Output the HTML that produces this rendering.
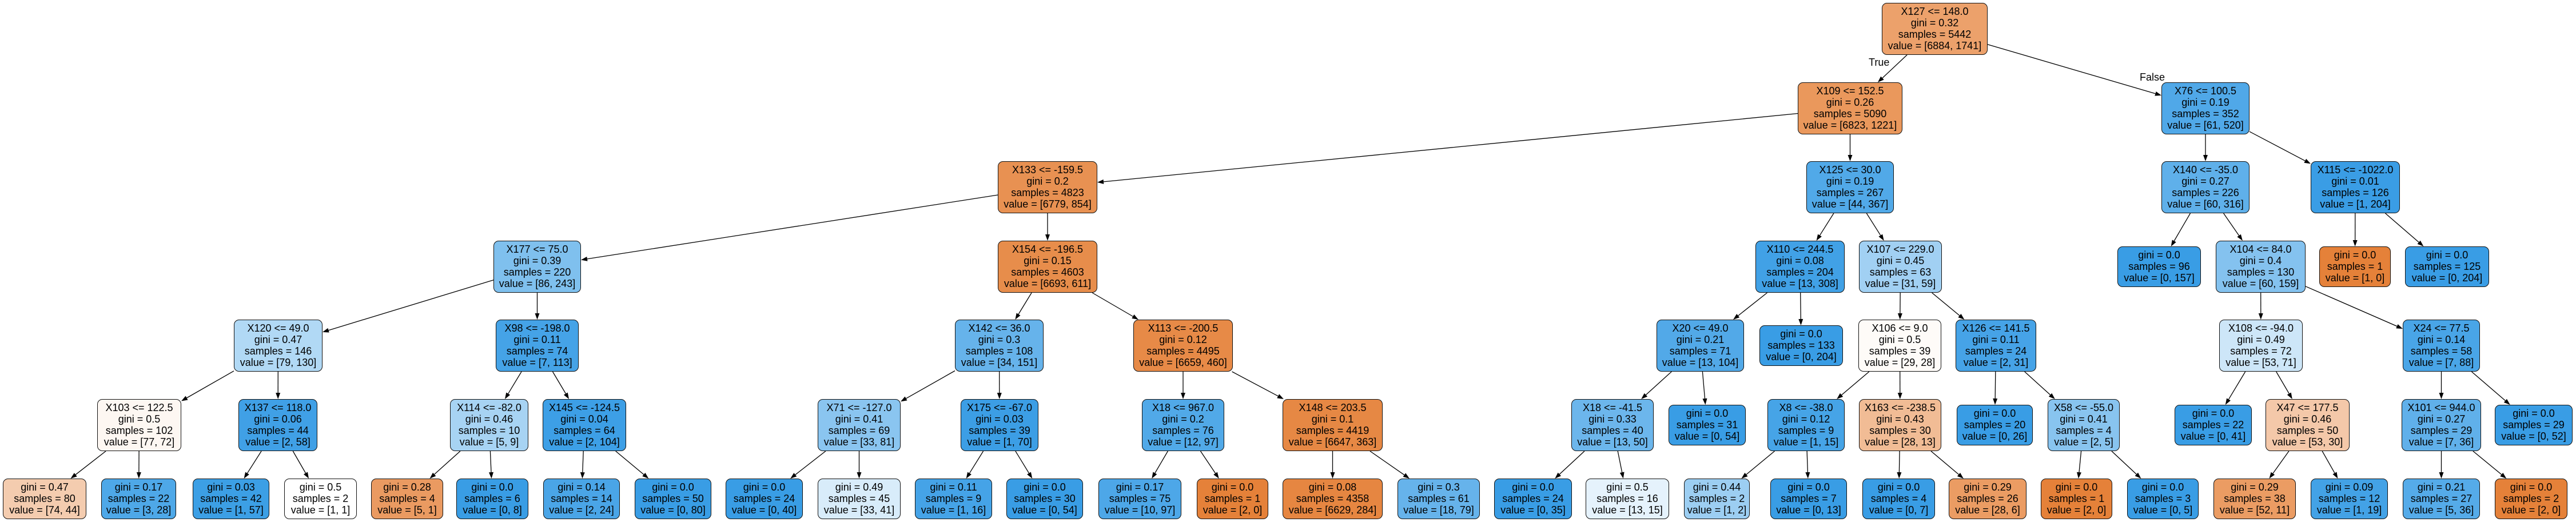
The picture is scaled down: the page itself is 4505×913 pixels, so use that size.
<!DOCTYPE html>
<html><head><meta charset="utf-8">
<style>
html,body{margin:0;padding:0;background:#fff;}
body{width:4505px;height:913px;position:relative;overflow:hidden;font-family:"Liberation Sans",Arial,sans-serif;}
.n{position:absolute;box-sizing:border-box;border:1.3px solid #111;border-radius:9px;font-size:18px;line-height:20px;text-align:center;padding-top:4px;color:#000;white-space:nowrap;background:#fff;z-index:2;}
.lbl{position:absolute;font-size:18px;line-height:20px;z-index:2;}
svg{position:absolute;left:0;top:0;z-index:1;}
</style></head><body>
<svg id="sv" width="4505" height="913"></svg>
<div class="lbl" style="left:3268px;top:99px">True</div>
<div class="lbl" style="left:3742px;top:125px">False</div>

<div class="n" id="A" style="left:3291px;top:5px;width:185px;height:91px">X127 &lt;= 148.0<br>gini = 0.32<br>samples = 5442<br>value = [6884, 1741]</div>

<div class="n" id="B" style="left:3144px;top:144px;width:183px;height:91px">X109 &lt;= 152.5<br>gini = 0.26<br>samples = 5090<br>value = [6823, 1221]</div>
<div class="n" id="C" style="left:3780px;top:144px;width:154px;height:91px">X76 &lt;= 100.5<br>gini = 0.19<br>samples = 352<br>value = [61, 520]</div>

<div class="n" id="D" style="left:1745px;top:282px;width:174px;height:91px">X133 &lt;= -159.5<br>gini = 0.2<br>samples = 4823<br>value = [6779, 854]</div>
<div class="n" id="E" style="left:3159px;top:282px;width:153px;height:91px">X125 &lt;= 30.0<br>gini = 0.19<br>samples = 267<br>value = [44, 367]</div>
<div class="n" id="F" style="left:3780px;top:282px;width:154px;height:91px">X140 &lt;= -35.0<br>gini = 0.27<br>samples = 226<br>value = [60, 316]</div>
<div class="n" id="G" style="left:4041px;top:282px;width:156px;height:91px">X115 &lt;= -1022.0<br>gini = 0.01<br>samples = 126<br>value = [1, 204]</div>

<div class="n" id="H" style="left:863px;top:421px;width:153px;height:91px">X177 &lt;= 75.0<br>gini = 0.39<br>samples = 220<br>value = [86, 243]</div>
<div class="n" id="I" style="left:1745px;top:421px;width:174px;height:91px">X154 &lt;= -196.5<br>gini = 0.15<br>samples = 4603<br>value = [6693, 611]</div>
<div class="n" id="J" style="left:3070px;top:421px;width:156px;height:91px">X110 &lt;= 244.5<br>gini = 0.08<br>samples = 204<br>value = [13, 308]</div>
<div class="n" id="K" style="left:3251px;top:421px;width:145px;height:91px">X107 &lt;= 229.0<br>gini = 0.45<br>samples = 63<br>value = [31, 59]</div>
<div class="n" id="L" style="left:3703px;top:431px;width:146px;height:71px">gini = 0.0<br>samples = 96<br>value = [0, 157]</div>
<div class="n" id="M" style="left:3875px;top:421px;width:157px;height:91px">X104 &lt;= 84.0<br>gini = 0.4<br>samples = 130<br>value = [60, 159]</div>
<div class="n" id="N" style="left:4056px;top:431px;width:125px;height:71px">gini = 0.0<br>samples = 1<br>value = [1, 0]</div>
<div class="n" id="O" style="left:4206px;top:431px;width:147px;height:71px">gini = 0.0<br>samples = 125<br>value = [0, 204]</div>

<div class="n" id="P" style="left:409px;top:559px;width:155px;height:91px">X120 &lt;= 49.0<br>gini = 0.47<br>samples = 146<br>value = [79, 130]</div>
<div class="n" id="Q" style="left:867px;top:559px;width:145px;height:91px">X98 &lt;= -198.0<br>gini = 0.11<br>samples = 74<br>value = [7, 113]</div>
<div class="n" id="R" style="left:1670px;top:559px;width:155px;height:91px">X142 &lt;= 36.0<br>gini = 0.3<br>samples = 108<br>value = [34, 151]</div>
<div class="n" id="S" style="left:1982px;top:559px;width:174px;height:91px">X113 &lt;= -200.5<br>gini = 0.12<br>samples = 4495<br>value = [6659, 460]</div>
<div class="n" id="T" style="left:2897px;top:559px;width:153px;height:91px">X20 &lt;= 49.0<br>gini = 0.21<br>samples = 71<br>value = [13, 104]</div>
<div class="n" id="U" style="left:3077px;top:569px;width:146px;height:71px">gini = 0.0<br>samples = 133<br>value = [0, 204]</div>
<div class="n" id="V" style="left:3250px;top:559px;width:145px;height:91px">X106 &lt;= 9.0<br>gini = 0.5<br>samples = 39<br>value = [29, 28]</div>
<div class="n" id="W" style="left:3420px;top:559px;width:141px;height:91px">X126 &lt;= 141.5<br>gini = 0.11<br>samples = 24<br>value = [2, 31]</div>
<div class="n" id="X" style="left:3881px;top:559px;width:146px;height:91px">X108 &lt;= -94.0<br>gini = 0.49<br>samples = 72<br>value = [53, 71]</div>
<div class="n" id="Y" style="left:4202px;top:559px;width:135px;height:91px">X24 &lt;= 77.5<br>gini = 0.14<br>samples = 58<br>value = [7, 88]</div>

<div class="n" id="a" style="left:170px;top:698px;width:147px;height:91px">X103 &lt;= 122.5<br>gini = 0.5<br>samples = 102<br>value = [77, 72]</div>
<div class="n" id="b" style="left:417px;top:698px;width:138px;height:91px">X137 &lt;= 118.0<br>gini = 0.06<br>samples = 44<br>value = [2, 58]</div>
<div class="n" id="c" style="left:787px;top:698px;width:137px;height:91px">X114 &lt;= -82.0<br>gini = 0.46<br>samples = 10<br>value = [5, 9]</div>
<div class="n" id="d" style="left:949px;top:698px;width:146px;height:91px">X145 &lt;= -124.5<br>gini = 0.04<br>samples = 64<br>value = [2, 104]</div>
<div class="n" id="e" style="left:1430px;top:698px;width:145px;height:91px">X71 &lt;= -127.0<br>gini = 0.41<br>samples = 69<br>value = [33, 81]</div>
<div class="n" id="f" style="left:1680px;top:698px;width:136px;height:91px">X175 &lt;= -67.0<br>gini = 0.03<br>samples = 39<br>value = [1, 70]</div>
<div class="n" id="g" style="left:1997px;top:698px;width:144px;height:91px">X18 &lt;= 967.0<br>gini = 0.2<br>samples = 76<br>value = [12, 97]</div>
<div class="n" id="h" style="left:2243px;top:698px;width:175px;height:91px">X148 &lt;= 203.5<br>gini = 0.1<br>samples = 4419<br>value = [6647, 363]</div>
<div class="n" id="i" style="left:2748px;top:698px;width:144px;height:91px">X18 &lt;= -41.5<br>gini = 0.33<br>samples = 40<br>value = [13, 50]</div>
<div class="n" id="j" style="left:2918px;top:708px;width:135px;height:71px">gini = 0.0<br>samples = 31<br>value = [0, 54]</div>
<div class="n" id="k" style="left:3091px;top:698px;width:135px;height:91px">X8 &lt;= -38.0<br>gini = 0.12<br>samples = 9<br>value = [1, 15]</div>
<div class="n" id="l" style="left:3251px;top:698px;width:144px;height:91px">X163 &lt;= -238.5<br>gini = 0.43<br>samples = 30<br>value = [28, 13]</div>
<div class="n" id="m" style="left:3422px;top:708px;width:133px;height:71px">gini = 0.0<br>samples = 20<br>value = [0, 26]</div>
<div class="n" id="n" style="left:3581px;top:698px;width:126px;height:91px">X58 &lt;= -55.0<br>gini = 0.41<br>samples = 4<br>value = [2, 5]</div>
<div class="n" id="o" style="left:3803px;top:708px;width:135px;height:71px">gini = 0.0<br>samples = 22<br>value = [0, 41]</div>
<div class="n" id="p" style="left:3962px;top:698px;width:147px;height:91px">X47 &lt;= 177.5<br>gini = 0.46<br>samples = 50<br>value = [53, 30]</div>
<div class="n" id="q" style="left:4200px;top:698px;width:139px;height:91px">X101 &lt;= 944.0<br>gini = 0.27<br>samples = 29<br>value = [7, 36]</div>
<div class="n" id="r" style="left:4363px;top:708px;width:136px;height:71px">gini = 0.0<br>samples = 29<br>value = [0, 52]</div>

<div class="n" id="a1" style="left:5px;top:837px;width:146px;height:71px">gini = 0.47<br>samples = 80<br>value = [74, 44]</div>
<div class="n" id="a2" style="left:177px;top:837px;width:131px;height:71px">gini = 0.17<br>samples = 22<br>value = [3, 28]</div>
<div class="n" id="b1" style="left:337px;top:837px;width:134px;height:71px">gini = 0.03<br>samples = 42<br>value = [1, 57]</div>
<div class="n" id="b2" style="left:497px;top:837px;width:127px;height:71px">gini = 0.5<br>samples = 2<br>value = [1, 1]</div>
<div class="n" id="c1" style="left:649px;top:837px;width:126px;height:71px">gini = 0.28<br>samples = 4<br>value = [5, 1]</div>
<div class="n" id="c2" style="left:798px;top:837px;width:126px;height:71px">gini = 0.0<br>samples = 6<br>value = [0, 8]</div>
<div class="n" id="d1" style="left:950px;top:837px;width:134px;height:71px">gini = 0.14<br>samples = 14<br>value = [2, 24]</div>
<div class="n" id="d2" style="left:1110px;top:837px;width:134px;height:71px">gini = 0.0<br>samples = 50<br>value = [0, 80]</div>
<div class="n" id="e1" style="left:1269px;top:837px;width:135px;height:71px">gini = 0.0<br>samples = 24<br>value = [0, 40]</div>
<div class="n" id="e2" style="left:1430px;top:837px;width:145px;height:71px">gini = 0.49<br>samples = 45<br>value = [33, 41]</div>
<div class="n" id="f1" style="left:1600px;top:837px;width:135px;height:71px">gini = 0.11<br>samples = 9<br>value = [1, 16]</div>
<div class="n" id="f2" style="left:1760px;top:837px;width:134px;height:71px">gini = 0.0<br>samples = 30<br>value = [0, 54]</div>
<div class="n" id="g1" style="left:1921px;top:837px;width:145px;height:71px">gini = 0.17<br>samples = 75<br>value = [10, 97]</div>
<div class="n" id="g2" style="left:2093px;top:837px;width:125px;height:71px">gini = 0.0<br>samples = 1<br>value = [2, 0]</div>
<div class="n" id="h1" style="left:2243px;top:837px;width:175px;height:71px">gini = 0.08<br>samples = 4358<br>value = [6629, 284]</div>
<div class="n" id="h2" style="left:2444px;top:837px;width:144px;height:71px">gini = 0.3<br>samples = 61<br>value = [18, 79]</div>
<div class="n" id="i1" style="left:2613px;top:837px;width:136px;height:71px">gini = 0.0<br>samples = 24<br>value = [0, 35]</div>
<div class="n" id="i2" style="left:2773px;top:837px;width:146px;height:71px">gini = 0.5<br>samples = 16<br>value = [13, 15]</div>
<div class="n" id="k1" style="left:2945px;top:837px;width:115px;height:71px">gini = 0.44<br>samples = 2<br>value = [1, 2]</div>
<div class="n" id="k2" style="left:3096px;top:837px;width:134px;height:71px">gini = 0.0<br>samples = 7<br>value = [0, 13]</div>
<div class="n" id="l1" style="left:3257px;top:837px;width:127px;height:71px">gini = 0.0<br>samples = 4<br>value = [0, 7]</div>
<div class="n" id="l2" style="left:3408px;top:837px;width:136px;height:71px">gini = 0.29<br>samples = 26<br>value = [28, 6]</div>
<div class="n" id="n1" style="left:3569px;top:837px;width:125px;height:71px">gini = 0.0<br>samples = 1<br>value = [2, 0]</div>
<div class="n" id="n2" style="left:3720px;top:837px;width:125px;height:71px">gini = 0.0<br>samples = 3<br>value = [0, 5]</div>
<div class="n" id="p1" style="left:3871px;top:837px;width:144px;height:71px">gini = 0.29<br>samples = 38<br>value = [52, 11]</div>
<div class="n" id="p2" style="left:4041px;top:837px;width:135px;height:71px">gini = 0.09<br>samples = 12<br>value = [1, 19]</div>
<div class="n" id="q1" style="left:4202px;top:837px;width:135px;height:71px">gini = 0.21<br>samples = 27<br>value = [5, 36]</div>
<div class="n" id="q2" style="left:4363px;top:837px;width:127px;height:71px">gini = 0.0<br>samples = 2<br>value = [2, 0]</div>

<script>
(function(){
var nodes=document.querySelectorAll('.n');
for(var i=0;i<nodes.length;i++){
  var m=nodes[i].textContent.match(/value = \[(\d+), (\d+)\]/);
  if(!m)continue;
  var a=+m[1],b=+m[2],mx=Math.max(a,b),mn=Math.min(a,b);
  var al=mx?1-mn/mx:0;
  var c=a>=b?[229,129,57]:[57,157,229];
  if(a==b)al=0;
  var rgb=c.map(function(v){return Math.round(al*v+(1-al)*255);});
  nodes[i].style.background='rgb('+rgb.join(',')+')';
}
var E=[['A','B'],['A','C'],['B','D'],['B','E'],['C','F'],['C','G'],
['D','H'],['D','I'],['E','J'],['E','K'],['F','L'],['F','M'],['G','N'],['G','O'],
['H','P'],['H','Q'],['I','R'],['I','S'],['J','T'],['J','U'],['K','V'],['K','W'],['M','X'],['M','Y'],
['P','a'],['P','b'],['Q','c'],['Q','d'],['R','e'],['R','f'],['S','g'],['S','h'],['T','i'],['T','j'],['V','k'],['V','l'],['W','m'],['W','n'],['X','o'],['X','p'],['Y','q'],['Y','r'],
['a','a1'],['a','a2'],['b','b1'],['b','b2'],['c','c1'],['c','c2'],['d','d1'],['d','d2'],['e','e1'],['e','e2'],['f','f1'],['f','f2'],['g','g1'],['g','g2'],['h','h1'],['h','h2'],['i','i1'],['i','i2'],['k','k1'],['k','k2'],['l','l1'],['l','l2'],['n','n1'],['n','n2'],['p','p1'],['p','p2'],['q','q1'],['q','q2']];
function bx(id){var e=document.getElementById(id);return {cx:e.offsetLeft+e.offsetWidth/2,cy:e.offsetTop+e.offsetHeight/2,hw:e.offsetWidth/2,hh:e.offsetHeight/2};}
function tc(b,dx,dy){var t1=Math.abs(dx)>1e-6?b.hw/Math.abs(dx):1e9;var t2=Math.abs(dy)>1e-6?b.hh/Math.abs(dy):1e9;return Math.min(t1,t2);}
var s='';
E.forEach(function(p){
  var P=bx(p[0]),C=bx(p[1]);
  var dx=C.cx-P.cx,dy=C.cy-P.cy;
  var t0=tc(P,dx,dy),t1=1-tc(C,dx,dy);
  var x0=P.cx+dx*t0,y0=P.cy+dy*t0,x1=P.cx+dx*t1,y1=P.cy+dy*t1;
  var L=Math.sqrt(dx*dx+dy*dy),ux=dx/L,uy=dy/L;
  var al=11,aw=4;
  var bx_=x1-ux*al,by_=y1-uy*al;
  s+='<line x1="'+x0.toFixed(1)+'" y1="'+y0.toFixed(1)+'" x2="'+bx_.toFixed(1)+'" y2="'+by_.toFixed(1)+'" stroke="#000" stroke-width="1.3"/>';
  s+='<polygon points="'+x1.toFixed(1)+','+y1.toFixed(1)+' '+(bx_-uy*aw).toFixed(1)+','+(by_+ux*aw).toFixed(1)+' '+(bx_+uy*aw).toFixed(1)+','+(by_-ux*aw).toFixed(1)+'" fill="#000"/>';
});
document.getElementById('sv').innerHTML=s;
})();
</script>
</body></html>
